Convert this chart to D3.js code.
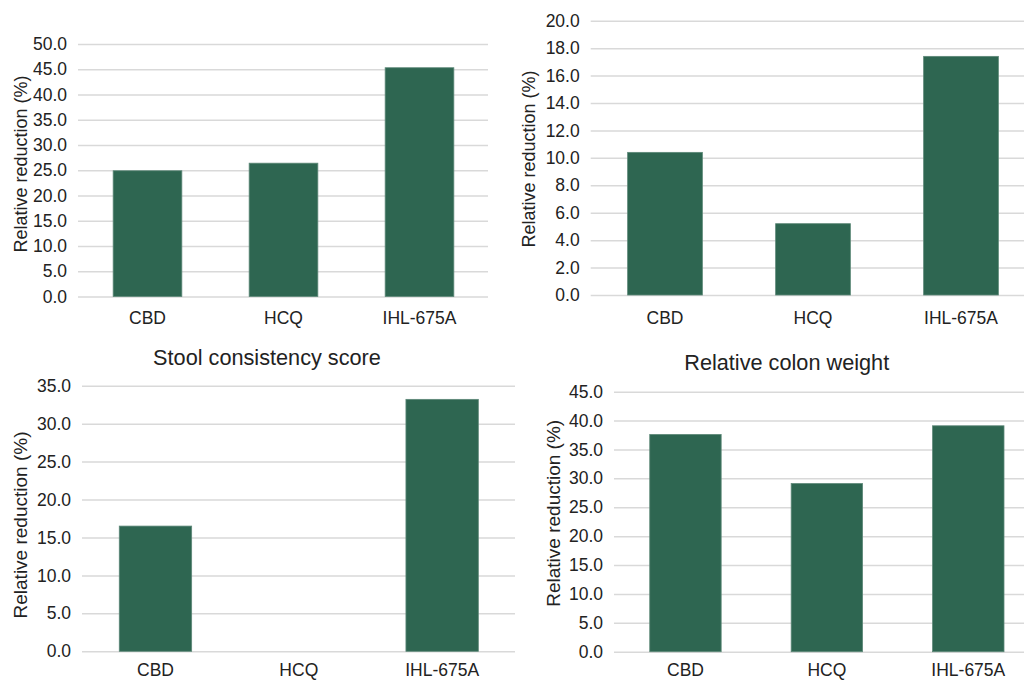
<!DOCTYPE html>
<html>
<head>
<meta charset="utf-8">
<script src="https://cdn.jsdelivr.net/npm/d3@7"></script>
<style>
  html, body { margin: 0; padding: 0; background: #ffffff; }
  svg { display: block; }
  text { font-family: "Liberation Sans", Arial, Helvetica, sans-serif; fill: #222222; }
</style>
</head>
<body>
<svg id="chart" width="1024" height="680"></svg>
<script>
// ---- data ----
const categories = ["CBD", "HCQ", "IHL-675A"];
const yAxisLabel = "Relative reduction (%)";

const panelATitle = "";
const panelAValues = [24.9, 26.4, 45.3];
const panelATicks = [0, 5, 10, 15, 20, 25, 30, 35, 40, 45, 50];

const panelBTitle = "";
const panelBValues = [10.4, 5.2, 17.4];
const panelBTicks = [0, 2, 4, 6, 8, 10, 12, 14, 16, 18, 20];

const stoolTitle = "Stool consistency score";
const stoolValues = [16.5, 0, 33.2];
const stoolTicks = [0, 5, 10, 15, 20, 25, 30, 35];

const colonTitle = "Relative colon weight";
const colonValues = [37.6, 29.1, 39.1];
const colonTicks = [0, 5, 10, 15, 20, 25, 30, 35, 40, 45];

// ---- layout (positions only) ----
const panels = [
  { title: panelATitle, values: panelAValues, ticks: panelATicks,
    band: [79.5, 487.5], grid: [78, 488], y: [296.5, 44],
    ylab: { x: 27, y: 164, size: 18 }, xlabBase: 324, titlePos: null },
  { title: panelBTitle, values: panelBValues, ticks: panelBTicks,
    band: [591, 1035], grid: [590.7, 1024], y: [295, 20.7],
    ylab: { x: 534.7, y: 159, size: 18 }, xlabBase: 324, titlePos: null },
  { title: stoolTitle, values: stoolValues, ticks: stoolTicks,
    band: [83.8, 513.8], grid: [82, 515], y: [651.3, 385.7],
    ylab: { x: 27.3, y: 525, size: 19 }, xlabBase: 676, titlePos: { x: 267, y: 365 } },
  { title: colonTitle, values: colonValues, ticks: colonTicks,
    band: [614.75, 1039], grid: [614, 1024], y: [651.7, 391.7],
    ylab: { x: 560, y: 513.3, size: 19 }, xlabBase: 676, titlePos: { x: 786.7, y: 370 } }
];

const barColor = "#2e6651";
const gridColor = "#d9d9d9";
const svg = d3.select("#chart");

panels.forEach(p => {
  const g = svg.append("g");
  const x = d3.scaleBand().domain(categories).range(p.band).padding(0);
  const y = d3.scaleLinear().domain([0, d3.max(p.ticks)]).range(p.y);

  // y axis with gridlines
  const yAxis = d3.axisLeft(y)
    .tickValues(p.ticks)
    .tickFormat(d3.format(".1f"))
    .tickSize(-(p.grid[1] - p.grid[0]))
    .tickPadding(11);
  const ya = g.append("g")
    .attr("transform", `translate(${p.grid[0]},0)`)
    .call(yAxis);
  ya.select(".domain").remove();
  ya.selectAll(".tick line").attr("stroke", gridColor).attr("stroke-width", 1.5);
  ya.selectAll(".tick text")
    .attr("font-size", 17.5)
    .attr("fill", "#222222")
    .style("font-family", "'Liberation Sans', Arial, sans-serif");

  // bars
  const frac = 0.505;
  g.append("g").selectAll("rect")
    .data(categories.map((c, i) => ({ c, v: p.values[i] })))
    .join("rect")
    .attr("x", d => x(d.c) + x.bandwidth() * (1 - frac) / 2)
    .attr("width", x.bandwidth() * frac)
    .attr("y", d => y(d.v))
    .attr("height", d => y(0) - y(d.v))
    .attr("fill", barColor)
    .attr("stroke", d => d.v > 0 ? "#5d8878" : "none")
    .attr("stroke-width", 0.8);

  // x axis
  const y0 = y(0);
  const xAxis = d3.axisBottom(x).tickSize(0).tickPadding(0);
  const xa = g.append("g")
    .attr("transform", `translate(0,${y0})`)
    .call(xAxis);
  xa.select(".domain").remove();
  xa.selectAll(".tick text")
    .attr("y", p.xlabBase - y0)
    .attr("dy", 0)
    .attr("font-size", 17.5)
    .attr("fill", "#222222")
    .style("font-family", "'Liberation Sans', Arial, sans-serif");

  // y label
  g.append("text")
    .attr("transform", `translate(${p.ylab.x},${p.ylab.y}) rotate(-90)`)
    .attr("text-anchor", "middle")
    .attr("font-size", p.ylab.size)
    .text(yAxisLabel);

  // title
  if (p.title && p.titlePos) {
    g.append("text")
      .attr("x", p.titlePos.x)
      .attr("y", p.titlePos.y)
      .attr("text-anchor", "middle")
      .attr("font-size", 21.7)
      .text(p.title);
  }
});
</script>
</body>
</html>
